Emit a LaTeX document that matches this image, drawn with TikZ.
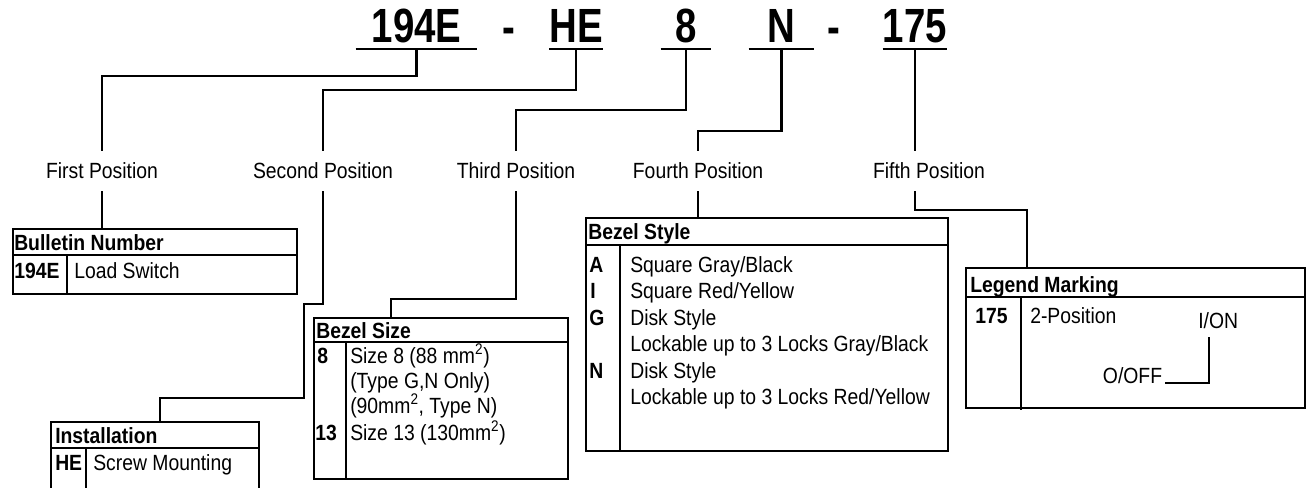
\documentclass[tikz,border=0pt]{standalone}
\usepackage{fontspec}
\setmainfont[FakeStretch=0.88]{Liberation Sans}
\newfontfamily\codefont[FakeStretch=0.8]{Liberation Sans}
\usetikzlibrary{positioning}

\tikzset{
  wire/.style={line width=1.6pt},
  code/.style={font=\codefont\fontsize{36}{42}\selectfont\bfseries,
    inner xsep=0pt, inner ysep=4.5pt, anchor=south},
  poslabel/.style={minimum height=30pt, inner sep=0pt},
  tablebox/.style={draw, line width=1.8pt, anchor=north west, inner sep=0pt},
  cell/.style={anchor=base west, inner sep=0pt},
  head/.style={cell, font=\fontsize{16.5}{20}\selectfont\bfseries},
}

\begin{document}
\begin{tikzpicture}[x=0.75pt, y=-0.75pt, every node/.style={font=\fontsize{16.5}{20}\selectfont}]
  \useasboundingbox (0,0) rectangle (1308,487);

  % catalogue number
  \node[code, minimum width=121*0.75pt] (c1) at (416.5,49) {194E};
  \node[code, anchor=base] (d1) at (509,43) {-};
  \node[code, minimum width=50*0.75pt] (c2) at (576,49) {HE};
  \node[code, minimum width=50*0.75pt] (c3) at (686,49) {8};
  \node[code, minimum width=65*0.75pt] (c4) at (781.5,49) {N};
  \node[code, anchor=base] (d2) at (834,43) {-};
  \node[code, minimum width=64*0.75pt] (c5) at (915,49) {175};
  \foreach \c in {c1,c2,c3,c4,c5}
    \draw[wire] (\c.south west) -- (\c.south east);

  % position labels
  \node[poslabel] (lab1) at (102,171) {First Position};
  \node[poslabel] (lab2) at (323,171) {Second Position};
  \node[poslabel] (lab3) at (516,171) {Third Position};
  \node[poslabel] (lab4) at (698,171) {Fourth Position};
  \node[poslabel] (lab5) at (929,171) {Fifth Position};

  \draw[wire] (c1.south) -- ++(0,27) -| (lab1.north);
  \draw[wire] (c2.south) -- ++(0,41) -| (lab2.north);
  \draw[wire] (c3.south) -- ++(0,61) -| (lab3.north);
  \draw[wire] (c4.south) -- ++(0,82) -| (lab4.north);
  \draw[wire] (c5.south) -- (c5.south |- lab5.north);

  % tables
  \node[tablebox, minimum width=284*0.75pt, minimum height=65*0.75pt] (bulletin) at (12,228) {};
  \node[tablebox, minimum width=208*0.75pt, minimum height=80*0.75pt] (install) at (50,421) {};
  \node[tablebox, minimum width=254*0.75pt, minimum height=161*0.75pt] (bezsize) at (313,317) {};
  \node[tablebox, minimum width=362*0.75pt, minimum height=233*0.75pt] (bezstyle) at (585,217) {};
  \node[tablebox, minimum width=339*0.75pt, minimum height=140*0.75pt] (legend) at (965,267) {};

  \draw[wire] (12,255) -- (296,255) (67,255) -- (67,293);
  \draw[wire] (50,448) -- (258,448) (86,448) -- (86,501);
  \draw[wire] (313,342) -- (567,342) (346,342) -- (346,478);
  \draw[wire] (585,245) -- (947,245) (620,245) -- (620,450);
  \draw[wire] (965,297) -- (1306,297) (1021,297) -- (1021,410);

  % lower connectors
  \coordinate (bend2a) at (304,304);
  \coordinate (bend2b) at (160,398);
  \coordinate (bend3) at (391,299);
  \coordinate (bend5) at (1027,210);
  \draw[wire] (lab1.south) -- (lab1.south |- bulletin.north);
  \draw[wire] (lab2.south) |- (bend2a) |- (bend2b) -- (bend2b |- install.north);
  \draw[wire] (lab3.south) |- (bend3) -- (bend3 |- bezsize.north);
  \draw[wire] (lab4.south) -- (lab4.south |- bezstyle.north);
  \draw[wire] (c5.south |- lab5.south) |- (bend5) -- (bend5 |- legend.north);

  % Bulletin Number
  \node[head] (bullhead) at (14,250) {Bulletin Number};
  \node[head] (bullcode) at (14,278) {194E};
  \node[cell] (bulltext) at (74,278) {Load Switch};

  % Installation
  \node[head] (insthead) at (55,443) {Installation};
  \node[head] (instcode) at (55,470) {HE};
  \node[cell] (insttext) at (93,470) {Screw Mounting};

  % Bezel Size
  \node[head] (sizehead) at (316,338) {Bezel Size};
  \node[head] (sizecode1) at (317,363) {8};
  \node[cell] (sizetext1) at (350,363) {Size 8 (88 mm\textsuperscript{2})};
  \node[cell] (sizetext2) at (350,388) {(Type G,N Only)};
  \node[cell] (sizetext3) at (350,413) {(90mm\textsuperscript{2}, Type N)};
  \node[head] (sizecode2) at (315,440) {13};
  \node[cell] (sizetext4) at (350,440) {Size 13 (130mm\textsuperscript{2})};

  % Bezel Style
  \node[head] (stylehead) at (588,239) {Bezel Style};
  \node[head] (stylecode1) at (589,272) {A};
  \node[cell] (styletext1) at (630,272) {Square Gray/Black};
  \node[head] (stylecode2) at (590,298.5) {I};
  \node[cell] (styletext2) at (630,298.5) {Square Red/Yellow};
  \node[head] (stylecode3) at (589,325) {G};
  \node[cell] (styletext3) at (630,325) {Disk Style};
  \node[cell] (styletext4) at (630,351.5) {Lockable up to 3 Locks Gray/Black};
  \node[head] (stylecode4) at (589,378) {N};
  \node[cell] (styletext5) at (630,378) {Disk Style};
  \node[cell] (styletext6) at (630,404.5) {Lockable up to 3 Locks Red/Yellow};

  % Legend Marking
  \node[head] (leghead) at (970,292) {Legend Marking};
  \node[head] (legcode) at (975,323) {175};
  \node[cell] (legtext) at (1030,323) {2-Position};
  \node[cell] (on) at (1198,328) {I/ON};
  \node[cell, inner xsep=2pt] (off) at (1100,383) {O/OFF};
  \draw[wire] ([xshift=-7pt,yshift=-6.75pt]on.south) |- (off.base east);
\end{tikzpicture}
\end{document}
